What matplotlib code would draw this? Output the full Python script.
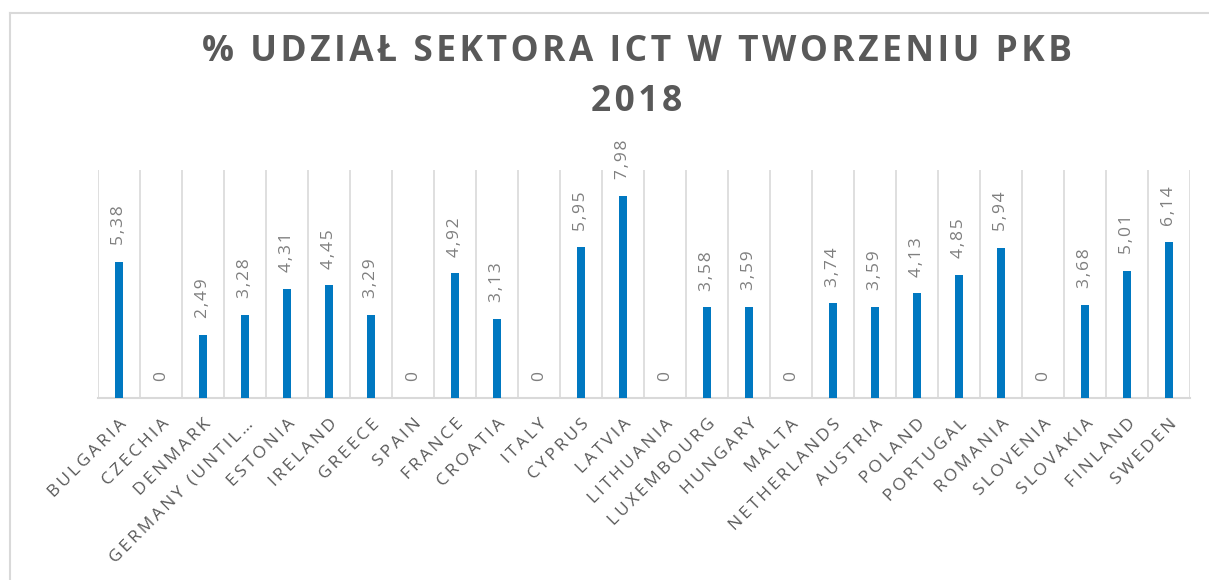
import matplotlib.pyplot as plt
from matplotlib.lines import Line2D

countries = ['BULGARIA', 'CZECHIA', 'DENMARK', 'GERMANY (UNTIL…', 'ESTONIA',
             'IRELAND', 'GREECE', 'SPAIN', 'FRANCE', 'CROATIA', 'ITALY',
             'CYPRUS', 'LATVIA', 'LITHUANIA', 'LUXEMBOURG', 'HUNGARY', 'MALTA',
             'NETHERLANDS', 'AUSTRIA', 'POLAND', 'PORTUGAL', 'ROMANIA',
             'SLOVENIA', 'SLOVAKIA', 'FINLAND', 'SWEDEN']
ict_share = [5.38, 0, 2.49, 3.28, 4.31, 4.45, 3.29, 0, 4.92, 3.13, 0, 5.95,
             7.98, 0, 3.58, 3.59, 0, 3.74, 3.59, 4.13, 4.85, 5.94, 0, 3.68,
             5.01, 6.14]
title_lines = ['% UDZIAŁ SEKTORA ICT W TWORZENIU PKB', '2018']

plt.rcParams['font.family'] = ['Open Sans', 'DejaVu Sans']


def spaced(s, sep='\u200a'):
    # rough stand-in for Excel's letter spacing
    return sep.join(s)


W, H = 1209, 580
fig = plt.figure(figsize=(W / 100, H / 100), dpi=100)
ax = fig.add_axes([98 / W, (H - 398) / H, (1190 - 98) / W, (398 - 170) / H])

x = range(len(countries))
ax.bar(x, ict_share, width=0.19, color='#0078c1', zorder=3)
ax.set_xlim(-0.5, len(countries) - 0.5)
ax.set_ylim(0, 9)

# vertical separators between categories
for b in range(len(countries) + 1):
    ax.axvline(b - 0.5, color='#d9d9d9', lw=1.2, zorder=1)

for i, v in enumerate(ict_share):
    lab = f'{v:.2f}'.replace('.', ',') if v else '0'
    ax.annotate(spaced(lab), (i, v), xytext=(0, 12), textcoords='offset points',
                rotation=90, ha='center', va='bottom', fontsize=12.5,
                color='#7f7f7f')

ax.set_xticks(list(x))
ax.set_xticklabels([spaced(c, '\u2009') for c in countries], rotation=45,
                   ha='right', rotation_mode='anchor', fontsize=12.5,
                   color='#595959')
ax.tick_params(axis='x', length=0, pad=13)
ax.set_yticks([])
for s in ['top', 'left', 'right']:
    ax.spines[s].set_visible(False)
ax.spines['bottom'].set_color('#d9d9d9')
ax.spines['bottom'].set_linewidth(1.5)

for k, line in enumerate(title_lines):
    fig.text(637 / W, 1 - (52 + 50 * k) / H, spaced(line), ha='center',
             va='center', fontsize=25.5, fontweight='bold', color='#595959')

# chart frame (cropped: only top and left edges visible)
fig.add_artist(Line2D([9.5 / W, 1], [1 - 12.5 / H, 1 - 12.5 / H],
                      color='#d9d9d9', lw=1.5, transform=fig.transFigure))
fig.add_artist(Line2D([9.5 / W, 9.5 / W], [0, 1 - 12.5 / H],
                      color='#d9d9d9', lw=1.5, transform=fig.transFigure))

fig.savefig('out.png', dpi=100, facecolor='white')
